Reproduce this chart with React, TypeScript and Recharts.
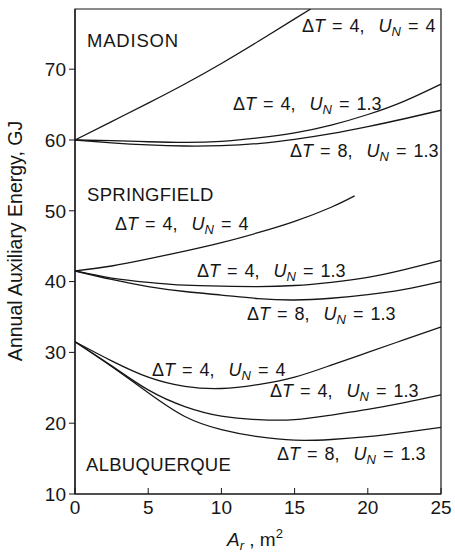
import React from "react";
import { LineChart, Line, XAxis, YAxis, ReferenceArea } from "recharts";

// collector area, m2
const areas = [0, 2.5, 5, 7.5, 10, 12.5, 15, 17.5, 20, 22.5, 25];
const madisonShortAreas = [0, 2.5, 5, 7.5, 10, 12.5, 15, 16.1];
const springfieldShortAreas = [0, 2.5, 5, 7.5, 10, 12.5, 15, 17.5, 19.1];

// annual auxiliary energy, GJ
const madisonDt4Un4 = [60, 62.6, 65.2, 67.9, 70.8, 73.9, 77.1, 78.5];
const madisonDt4Un13 = [60, 59.9, 59.75, 59.65, 59.8, 60.3, 61.0, 62.1, 63.6, 65.5, 67.9];
const madisonDt8Un13 = [60, 59.6, 59.3, 59.15, 59.2, 59.5, 60.1, 60.9, 61.9, 63.0, 64.2];

const springfieldDt4Un4 = [41.5, 42.2, 43.2, 44.3, 45.5, 46.9, 48.5, 50.5, 52.1];
const springfieldDt4Un13 = [41.5, 40.5, 39.9, 39.5, 39.35, 39.3, 39.45, 39.9, 40.6, 41.7, 43.0];
const springfieldDt8Un13 = [41.5, 40.3, 39.3, 38.6, 38.1, 37.6, 37.4, 37.65, 38.15, 38.9, 40.0];

const albuquerqueDt4Un4 = [31.5, 28.8, 26.5, 25.2, 24.9, 25.45, 26.5, 28.2, 30.0, 31.8, 33.6];
const albuquerqueDt4Un13 = [31.5, 28.1, 24.7, 22.35, 21.0, 20.5, 20.5, 21.15, 21.95, 22.9, 24.0];
const albuquerqueDt8Un13 = [31.5, 28.0, 24.3, 20.95, 19.1, 18.1, 17.6, 17.7, 18.1, 18.7, 19.4];

const xTicks = [0, 5, 10, 15, 20, 25];
const yTicks = [10, 20, 30, 40, 50, 60, 70];

const toPoints = (xs: number[], ys: number[]) => xs.map((x, i) => ({ x, y: ys[i] }));

const series = [
  toPoints(madisonShortAreas, madisonDt4Un4),
  toPoints(areas, madisonDt4Un13),
  toPoints(areas, madisonDt8Un13),
  toPoints(springfieldShortAreas, springfieldDt4Un4),
  toPoints(areas, springfieldDt4Un13),
  toPoints(areas, springfieldDt8Un13),
  toPoints(areas, albuquerqueDt4Un4),
  toPoints(areas, albuquerqueDt4Un13),
  toPoints(areas, albuquerqueDt8Un13),
];

const font = "'Liberation Sans', Arial, Helvetica, sans-serif";
const ink = "#161616";

function Param({ x, y, dt, un }: { x: number; y: number; dt: string; un: string }) {
  return (
    <text x={x} y={y} fontSize={18} fill={ink} wordSpacing={2} style={{ whiteSpace: "pre" }}>
      {"\u0394"}
      <tspan fontStyle="italic">T</tspan>
      {` = ${dt},  `}
      <tspan fontStyle="italic">U</tspan>
      <tspan fontStyle="italic" fontSize={13} dy={4}>N</tspan>
      <tspan dy={-4}>{` = ${un}`}</tspan>
    </text>
  );
}

export default function App() {
  return (
    <div style={{ position: "absolute", left: 0, top: 0, width: 455, height: 554, background: "#fff", fontFamily: font }}>
      <LineChart width={455} height={554} margin={{ top: 9, right: 14, left: 0, bottom: 0 }}>
        <XAxis
          dataKey="x"
          type="number"
          domain={[0, 25]}
          ticks={xTicks}
          height={60}
          tickSize={-6}
          tickMargin={13}
          axisLine={{ stroke: ink, strokeWidth: 1.2 }}
          tickLine={{ stroke: ink }}
          tick={{ fill: ink, fontSize: 19, fontFamily: font }}
          allowDuplicatedCategory={false}
        />
        <YAxis
          type="number"
          domain={[10, 78.5]}
          allowDataOverflow
          ticks={yTicks}
          width={75}
          tickSize={6}
          tickMargin={3}
          axisLine={{ stroke: ink, strokeWidth: 1.2 }}
          tickLine={{ stroke: ink }}
          tick={{ fill: ink, fontSize: 19, fontFamily: font }}
        />
        <ReferenceArea x1={0} x2={25} y1={10} y2={78.5} fill="none" stroke={ink} strokeWidth={1.2} />
        {series.map((pts, i) => (
          <Line
            key={i}
            data={pts}
            dataKey="y"
            type="natural"
            stroke={ink}
            strokeWidth={1.3}
            dot={false}
            isAnimationActive={false}
          />
        ))}
      </LineChart>
      <svg
        width={455}
        height={554}
        style={{ position: "absolute", left: 0, top: 0, pointerEvents: "none", fontFamily: font }}
      >
        <text x={87} y={47} fontSize={18.5} fill={ink} letterSpacing={0.8}>MADISON</text>
        <text x={87} y={201} fontSize={18.5} fill={ink} letterSpacing={0.3}>SPRINGFIELD</text>
        <text x={86} y={471} fontSize={18.5} fill={ink} letterSpacing={0.3}>ALBUQUERQUE</text>

        <Param x={302} y={32} dt="4" un="4" />
        <Param x={233} y={110} dt="4" un="1.3" />
        <Param x={290} y={157} dt="8" un="1.3" />

        <Param x={115} y={230} dt="4" un="4" />
        <Param x={197} y={277} dt="4" un="1.3" />
        <Param x={247} y={320} dt="8" un="1.3" />

        <Param x={152} y={376} dt="4" un="4" />
        <Param x={270} y={397} dt="4" un="1.3" />
        <Param x={277} y={460} dt="8" un="1.3" />

        <text x={22} y={241} fontSize={19.5} fill={ink} textAnchor="middle" transform="rotate(-90 22 241)">
          Annual Auxiliary Energy, GJ
        </text>
        <text x={227} y={546} fontSize={19} fill={ink} style={{ whiteSpace: "pre" }}>
          <tspan fontStyle="italic">A</tspan>
          <tspan fontStyle="italic" fontSize={13} dy={4}>r</tspan>
          <tspan dy={-4}>{" , m"}</tspan>
          <tspan fontSize={13} dy={-8}>2</tspan>
        </text>
      </svg>
    </div>
  );
}
